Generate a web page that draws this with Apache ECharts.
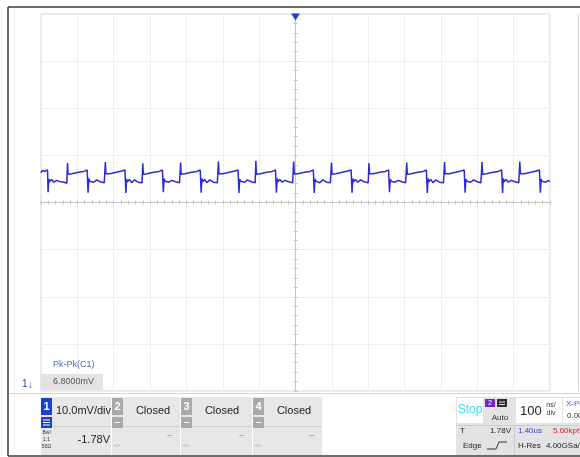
<!DOCTYPE html>
<html><head><meta charset="utf-8">
<script src="https://cdn.jsdelivr.net/npm/echarts@6/dist/echarts.min.js"></script>
<style>html,body{margin:0;padding:0;background:#fff}#c{width:580px;height:457px}</style>
</head><body><div id="c"></div>
<script>
// ---- data (time in ns relative to trigger, voltage in mV relative to screen centre) ----
const timeRange = [-700, 700];      // 14 div x 100 ns/div
const timePerDiv = 100;
const voltRange = [-40, 40];        // 8 div x 10 mV/div
const voltPerDiv = 10;
const triggerTime = 0;
const measureName = 'Pk-Pk(C1)';
const measureValue = '6.8000mV';

const traceTime = [
 -700,-696,-690,-682,-680.5,-678.5,-676,-671,-665,-657,-647,-636,-629,
 -627,-625.5,-623,-615,-597,-582,-573,-571.5,-570.5,-568.5,-566,-561,-555,-547,-537,-526,
 -523,-521.5,-519,-511,-493,-478,-469,-467.5,-466.5,-464.5,-462,-457,-451,-443,-433,-422,
 -420,-418.5,-416,-408,-390,-375,-366,-364.5,-363.5,-361.5,-359,-354,-348,-340,-330,-319,
 -316,-314.5,-312,-304,-286,-271,-262,-260.5,-259.5,-257.5,-255,-250,-244,-236,-226,-215,
 -212,-210.5,-208,-200,-182,-167,-158,-156.5,-155.5,-153.5,-151,-146,-140,-132,-122,-111,
 -109,-107.5,-105,-97,-79,-64,-55,-53.5,-52.5,-50.5,-48,-43,-37,-29,-19,-8,
 -5,-3.5,-1,7,25,40,49,50.5,51.5,53.5,56,61,67,75,85,96,
 99,100.5,103,111,129,144,153,154.5,155.5,157.5,160,165,171,179,189,200,
 202,203.5,206,214,232,247,256,257.5,258.5,260.5,263,268,274,282,292,303,
 306,307.5,310,318,336,351,360,361.5,362.5,364.5,367,372,378,386,396,407,
 410,411.5,414,422,440,455,464,465.5,466.5,468.5,471,476,482,490,500,510,
 513,514.5,517,525,543,558,567,568.5,569.5,571.5,574,579,585,593,603,614,
 617,618.5,621,629,647,662,671,672.5,673.5,675.5,678,683,689,695,700
];
const traceVolt = [
 6.3,6.8,6.6,6.9,2.2,5.0,4.4,4.9,4.3,4.7,4.4,4.3,4.1,
 8.4,6.0,6.4,6.1,6.4,6.6,6.9,7.0,2.1,5.1,4.5,4.9,4.3,4.8,4.4,4.2,
 8.6,6.1,6.4,6.1,6.4,6.7,6.9,7.0,2.0,5.0,4.4,4.9,4.2,4.8,4.3,4.2,
 8.3,6.0,6.3,6.1,6.4,6.6,6.9,7.0,2.2,5.1,4.5,4.9,4.3,4.7,4.4,4.2,
 8.5,6.0,6.4,6.1,6.4,6.6,6.9,7.0,2.1,5.1,4.4,4.9,4.2,4.8,4.3,4.2,
 8.7,6.1,6.4,6.1,6.4,6.7,6.9,7.0,2.0,5.0,4.5,4.9,4.3,4.8,4.4,4.2,
 8.8,6.0,6.4,6.1,6.4,6.6,6.9,7.0,2.1,5.1,4.4,4.9,4.3,4.7,4.4,4.2,
 8.7,6.1,6.4,6.1,6.4,6.6,6.9,7.0,2.0,5.0,4.5,4.9,4.2,4.8,4.3,4.2,
 8.5,6.0,6.4,6.1,6.4,6.7,6.9,7.0,2.1,5.1,4.4,4.9,4.3,4.8,4.4,4.2,
 8.4,6.1,6.4,6.1,6.4,6.6,6.9,7.0,2.2,5.0,4.5,4.9,4.3,4.7,4.4,4.2,
 8.5,6.0,6.4,6.1,6.4,6.6,6.9,7.0,2.0,5.1,4.4,4.9,4.2,4.8,4.3,4.2,
 8.6,6.1,6.4,6.1,6.4,6.7,6.9,7.0,2.1,5.0,4.5,4.9,4.3,4.8,4.4,4.2,
 8.6,6.0,6.4,6.1,6.4,6.6,6.9,7.0,2.0,5.1,4.4,4.9,4.3,4.7,4.4,4.2,
 8.7,6.1,6.4,6.1,6.4,6.7,6.9,7.0,2.1,5.0,4.5,4.9,4.3,4.7,4.5
];

// ---- chart ----
const FONT = '"Liberation Sans", Arial, sans-serif';
const PLOT = {left: 41, top: 14, width: 509, height: 377};
const chart = echarts.init(document.getElementById('c'), null, {renderer: 'canvas'});

function txt(x, y, s, size, color, align, weight) {
  return {type: 'text', x: x, y: y, z: 100, silent: true,
    style: {text: s, fill: color, font: (weight ? weight + ' ' : '') + size + 'px ' + FONT,
      textAlign: align || 'left', align: align || 'left',
      textVerticalAlign: 'middle', verticalAlign: 'middle'}};
}
function rect(x, y, w, h, fill, stroke) {
  return {type: 'rect', z: 90, silent: true, shape: {x: x, y: y, width: w, height: h},
    style: {fill: fill, stroke: stroke || null, lineWidth: stroke ? 1 : 0}};
}
function line(x1, y1, x2, y2, color, w) {
  return {type: 'line', z: 95, silent: true, shape: {x1: x1, y1: y1, x2: x2, y2: y2},
    style: {stroke: color, lineWidth: w || 1}};
}

const gfx = [];
// outer frame
gfx.push(line(8, 7, 580, 7, '#3a3a3a', 1.5));
gfx.push(line(8, 7, 8, 456, '#3a3a3a', 1.5));
gfx.push(line(8, 456, 580, 456, '#3a3a3a', 1.5));
gfx.push(line(578.5, 14, 578.5, 391, '#d6d6d6', 1));
gfx.push(line(9, 393.5, 580, 393.5, '#d4d4d4', 1));
// channel marker
gfx.push(txt(22, 384, '1', 10, '#3347c8'));
gfx.push(txt(28, 385, '↓', 10, '#3347c8'));
// measurement
gfx.push(txt(53, 365, measureName, 9, '#5066c4'));
gfx.push(rect(41, 374, 62, 16, '#e3e3e3'));
gfx.push(txt(53, 382, measureValue, 9, '#555555'));

// channel panels
const panels = [
  {x: 41, w: 70, badge: '1', color: '#1d3fd0'},
  {x: 112, w: 68, badge: '2', color: '#a9a9a9'},
  {x: 181, w: 71, badge: '3', color: '#a9a9a9'},
  {x: 253, w: 69, badge: '4', color: '#a9a9a9'}
];
panels.forEach(function (p, i) {
  gfx.push(rect(p.x, 397, p.w, 58, '#e7e7e7'));
  gfx.push(line(p.x + 12, 426.5, p.x + p.w, 426.5, '#cfcfcf', 1));
  gfx.push(rect(p.x, 398, 11, 17, p.color));
  gfx.push(txt(p.x + 5.5, 407, p.badge, 11, '#ffffff', 'center', 'bold'));
  gfx.push(rect(p.x, 417, 11, 11, p.color));
  if (i === 0) {
    gfx.push(line(p.x + 2, 420, p.x + 9, 420, '#fff', 1));
    gfx.push(line(p.x + 2, 422.5, p.x + 9, 422.5, '#fff', 1));
    gfx.push(line(p.x + 2, 425, p.x + 9, 425, '#fff', 1));
    gfx.push(txt(p.x + 5.5, 433, 'Bwl', 5, '#333', 'center'));
    gfx.push(txt(p.x + 5.5, 440, '1:1', 5, '#333', 'center'));
    gfx.push(txt(p.x + 5.5, 447, '50Ω', 5, '#333', 'center'));
    gfx.push(txt(p.x + 15, 411, '10.0mV/div', 11, '#222'));
    gfx.push(txt(p.x + p.w - 1, 440, '-1.78V', 11, '#222', 'right'));
  } else {
    gfx.push(line(p.x + 3, 422.5, p.x + 8, 422.5, '#fff', 1));
    gfx.push(txt(p.x + 41, 411, 'Closed', 11, '#222', 'center'));
    gfx.push(txt(p.x + p.w - 8, 435, '--', 7, '#555', 'right'));
    gfx.push(txt(p.x + 2, 445, '-:-', 6, '#555'));
  }
});

// acquisition / timebase panel
gfx.push(rect(456, 397, 124, 58, '#e3e3e3'));
gfx.push(rect(457, 398, 26, 25, '#ffffff'));
gfx.push(txt(470, 410, 'Stop', 12, '#38dcf0', 'center'));
gfx.push(rect(485, 399, 10, 8, '#7b22d6'));
gfx.push(txt(490, 403, '2', 7, '#fff', 'center'));
gfx.push(rect(497, 399, 10, 8, '#2e2e2e'));
gfx.push(line(499, 402, 505, 402, '#ddd', 1));
gfx.push(line(499, 404.5, 505, 404.5, '#ddd', 1));
gfx.push(txt(500, 418, 'Auto', 8, '#333', 'center'));
gfx.push(rect(516, 398, 46, 25, '#ffffff'));
gfx.push(txt(520, 411, '100', 13, '#222'));
gfx.push(txt(551, 405, 'ns/', 7, '#333', 'center'));
gfx.push(txt(551, 413, 'div', 7, '#333', 'center'));
gfx.push(rect(563, 398, 17, 25, '#ffffff'));
gfx.push(txt(566, 404, 'X-Po', 8, '#4455dd'));
gfx.push(txt(567, 416, '0.00', 8, '#333'));
gfx.push(line(456, 425.5, 580, 425.5, '#cccccc', 1));
gfx.push(line(514.5, 425, 514.5, 455, '#cccccc', 1));
gfx.push(txt(460, 431, 'T', 8, '#222'));
gfx.push(txt(511, 431, '1.78V', 8, '#222', 'right'));
gfx.push(txt(518, 431, '1.40us', 8, '#3344cc'));
gfx.push(txt(553, 431, '5.60kpt', 8, '#dd2222'));
gfx.push(txt(463, 446, 'Edge', 8, '#222'));
gfx.push({type: 'polyline', z: 95, silent: true,
  shape: {points: [[487, 449], [496, 449], [499, 442], [507, 442]]},
  style: {stroke: '#333', lineWidth: 1, fill: null}});
gfx.push(txt(518, 446, 'H-Res', 8, '#222'));
gfx.push(txt(546, 446, '4.00GSa/s', 8, '#222'));

const traceData = traceTime.map(function (t, i) { return [t, traceVolt[i]]; });

const axisCommon = {axisLabel: {show: false}, splitLine: {show: false}};
const option = {
  backgroundColor: '#ffffff',
  animation: false,
  grid: [
    Object.assign({show: true, borderColor: '#d2d2d2', borderWidth: 1, backgroundColor: '#fff'}, PLOT),
    Object.assign({show: false}, PLOT)
  ],
  xAxis: [
    {type: 'value', gridIndex: 0, min: timeRange[0], max: timeRange[1], interval: timePerDiv,
     axisLabel: {show: false},
     axisLine: {show: true, onZero: true, lineStyle: {color: '#c4c4c4', width: 1}},
     axisTick: {show: true, inside: true, length: 2, lineStyle: {color: '#c4c4c4'}},
     minorTick: {show: true, splitNumber: 5, length: 2, lineStyle: {color: '#c4c4c4'}},
     splitLine: {show: true, lineStyle: {color: '#eeeeee', width: 1}}},
    Object.assign({type: 'value', gridIndex: 1, min: timeRange[0], max: timeRange[1], interval: timePerDiv,
     axisLine: {show: true, onZero: true, lineStyle: {color: '#c4c4c4', width: 1}},
     axisTick: {show: true, inside: false, length: 2, lineStyle: {color: '#c4c4c4'}},
     minorTick: {show: true, splitNumber: 5, length: 2, lineStyle: {color: '#c4c4c4'}}}, axisCommon)
  ],
  yAxis: [
    {type: 'value', gridIndex: 0, min: voltRange[0], max: voltRange[1], interval: voltPerDiv,
     axisLabel: {show: false},
     axisLine: {show: true, onZero: true, lineStyle: {color: '#c4c4c4', width: 1}},
     axisTick: {show: true, inside: true, length: 2, lineStyle: {color: '#c4c4c4'}},
     minorTick: {show: true, splitNumber: 5, length: 2, lineStyle: {color: '#c4c4c4'}},
     splitLine: {show: true, lineStyle: {color: '#eeeeee', width: 1}}},
    Object.assign({type: 'value', gridIndex: 1, min: voltRange[0], max: voltRange[1], interval: voltPerDiv,
     axisLine: {show: true, onZero: true, lineStyle: {color: '#c4c4c4', width: 1}},
     axisTick: {show: true, inside: false, length: 2, lineStyle: {color: '#c4c4c4'}},
     minorTick: {show: true, splitNumber: 5, length: 2, lineStyle: {color: '#c4c4c4'}}}, axisCommon)
  ],
  series: [{
    type: 'line', xAxisIndex: 0, yAxisIndex: 0, data: traceData,
    showSymbol: false, symbol: 'none', smooth: false, z: 10,
    lineStyle: {color: '#2a2ad8', width: 1.5},
    markPoint: {
      symbol: 'triangle', symbolRotate: 180, symbolSize: [9, 7], symbolOffset: [0, 3],
      itemStyle: {color: '#2140d0'}, label: {show: false}, silent: true,
      data: [{coord: [triggerTime, voltRange[1]]}]
    }
  }],
  graphic: gfx
};
chart.setOption(option);
</script>
</body></html>
